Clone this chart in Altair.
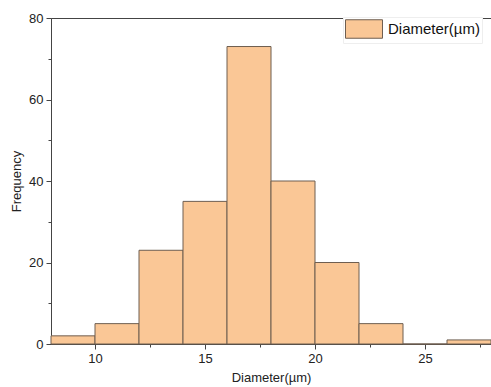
import altair as alt
import pandas as pd

bin_start = [8, 10, 12, 14, 16, 18, 20, 22, 24, 26]
bin_end = [10, 12, 14, 16, 18, 20, 22, 24, 26, 28]
counts = [2, 5, 23, 35, 73, 40, 20, 5, 0, 1]
series = "Diameter(µm)"

x_major = [10, 15, 20, 25]
x_minor = [12.5, 17.5, 22.5, 27.5]
y_major = [0, 20, 40, 60, 80]
y_minor = [10, 30, 50, 70]

df = pd.DataFrame({"start": bin_start, "end": bin_end, "count": counts, "series": series})

FONT = "Liberation Sans"
xscale = alt.Scale(domain=[8, 28], nice=False, zero=False)
yscale = alt.Scale(domain=[0, 80], nice=False)

bars = alt.Chart(df).mark_bar(stroke="#6e5e50", strokeWidth=1, opacity=1).encode(
    x=alt.X("start:Q", scale=xscale,
            axis=alt.Axis(values=x_major, title="Diameter(µm)", orient="bottom",
                          tickSize=5, labelPadding=3, titlePadding=6)),
    x2="end:Q",
    y=alt.Y("count:Q", scale=yscale,
            axis=alt.Axis(values=y_major, title="Frequency", tickSize=5, labelPadding=3,
                          titlePadding=5)),
    y2=alt.datum(0),
    color=alt.Color("series:N", scale=alt.Scale(range=["#FAC796"]),
                    legend=alt.Legend(title=None, orient="none", legendX=292, legendY=-1,
                                      symbolType="M-2,-1 L2,-1 L2,1 L-2,1 Z",
                                      symbolSize=342, symbolStrokeColor="#6e5e50",
                                      symbolStrokeWidth=1, symbolOffset=9,
                                      labelFontSize=15, labelFont=FONT,
                                      labelColor="#111111", fillColor="white",
                                      strokeColor="#eeeeee", padding=2, labelOffset=14)),
)

minor_df = pd.DataFrame({"v": [x_minor[0]]})
minor_x = alt.Chart(minor_df).mark_point(opacity=0).encode(
    x=alt.X("v:Q", scale=xscale,
            axis=alt.Axis(values=x_minor, labels=False, title=None, orient="bottom",
                          tickSize=3, domain=False)),
)
minor_y = alt.Chart(pd.DataFrame({"w": [y_minor[0]]})).mark_point(opacity=0).encode(
    y=alt.Y("w:Q", scale=yscale,
            axis=alt.Axis(values=y_minor, labels=False, title=None, orient="left",
                          tickSize=3, domain=False)),
)

chart = alt.layer(bars, minor_x, minor_y).resolve_axis(x="independent", y="independent").properties(
    width=440, height=326,
    autosize=alt.AutoSizeParams(type="none"),
    padding={"left": 51, "top": 18, "right": 0, "bottom": 43},
).configure_view(stroke="#444444", strokeWidth=1).configure_axis(
    grid=False, domainColor="#444444", tickColor="#444444",
    labelFont=FONT, titleFont=FONT, labelFontSize=13, titleFontSize=13,
    labelColor="#222222", titleColor="#222222", titleFontWeight="normal",
)

chart.save("out.html", embed_options={"renderer": "svg", "actions": False})
